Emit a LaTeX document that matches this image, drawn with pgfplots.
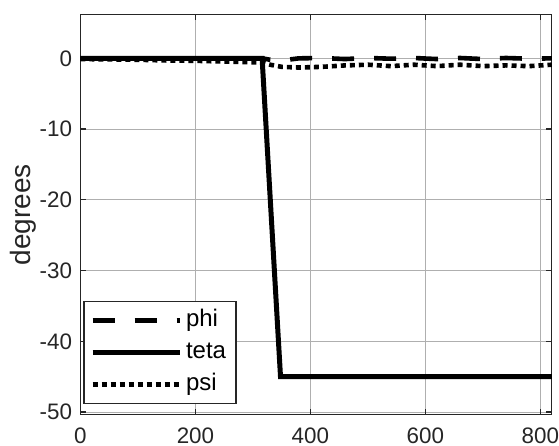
\documentclass[border=0pt]{standalone}
\usepackage{fontspec}
\setmainfont{Liberation Sans}
\usepackage{pgfplots}
\pgfplotsset{compat=1.18}
\usetikzlibrary{calc}
\definecolor{axgray}{RGB}{38,38,38}
\definecolor{gridgray}{RGB}{175,175,175}

\begin{document}
\begin{tikzpicture}
\begin{axis}[
  scale only axis,
  width=235.75pt, height=200.25pt,
  xmin=0, xmax=820,
  ymin=-50.4, ymax=6.2,
  xtick={0,200,400,600,800},
  ytick={-50,-40,-30,-20,-10,0},
  grid=major,
  major grid style={gridgray, line width=0.5pt},
  axis line style={axgray, line width=0.6pt},
  tick style={axgray, line width=0.6pt},
  tick align=inside,
  major tick length=3pt,
  ticklabel style={font=\fontsize{11.2}{13}\selectfont, text=axgray},
  xticklabel style={inner sep=0pt, anchor=north, yshift=-6.3pt},
  yticklabel style={inner sep=0pt, anchor=east, xshift=-4pt},
  /pgf/number format/assume math mode=true,
  ylabel={degrees},
  ylabel shift=-2pt,
  ylabel style={font=\fontsize{14}{16}\selectfont, text=axgray},
  legend style={at={(0,0)}, anchor=south west, xshift=1.5pt, yshift=5.5pt,
    draw=axgray, line width=0.6pt, font=\fontsize{12}{14}\selectfont,
    nodes={text height=8.5pt, text depth=2.5pt, inner sep=2pt},
    row sep=1pt},
  legend cell align=left,
  legend image code/.code={\draw[#1] (0pt,0pt) -- (43.5pt,0pt);},
]
\addplot[black, line width=2.3pt, dash pattern=on 11pt off 10pt] coordinates {
(0,0) (50,0) (100,0) (150,0) (200,0) (250,0) (300,0) (316,0)
(330,-0.2) (350,-0.3) (380,0) (420,0.05) (460,-0.1) (500,0.05) (540,-0.05)
(580,0.05) (620,-0.1) (660,0.05) (700,-0.1) (740,0.05) (780,-0.05) (820,0)};
\addlegendentry{phi}
\addplot[black, line width=2.5pt] coordinates {
(0,0) (316,0) (348,-45) (820,-45)};
\addlegendentry{teta}
\addplot[black, line width=2.3pt, dash pattern=on 2.5pt off 2pt] coordinates {
(0,-0.1) (50,-0.15) (100,-0.2) (150,-0.3) (200,-0.35) (250,-0.45) (300,-0.55) (316,-0.6)
(330,-0.9) (350,-1.2) (380,-1.3) (420,-1.2) (460,-1.0) (500,-0.9) (540,-1.1)
(580,-0.9) (620,-1.1) (660,-0.9) (700,-1.1) (740,-1.0) (780,-1.1) (820,-0.9)};
\addlegendentry{psi}
\end{axis}
\path ($(current axis.south west)+(-40.25pt,-15.5pt)$) rectangle ($(current axis.north east)+(3.5pt,7.25pt)$);
\end{tikzpicture}
\end{document}
